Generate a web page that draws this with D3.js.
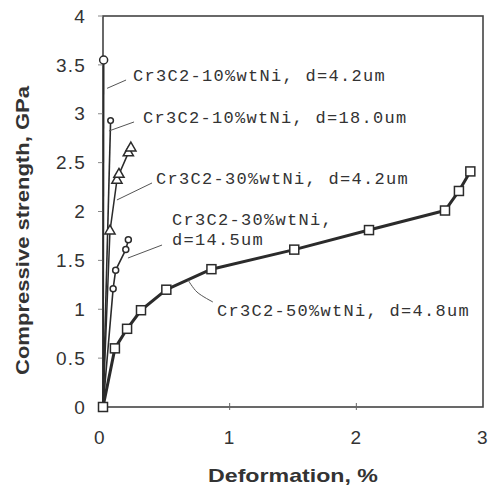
<!DOCTYPE html>
<html>
<head>
<meta charset="utf-8">
<script src="https://cdn.jsdelivr.net/npm/d3@7"></script>
<style>
  body { margin: 0; background: #fff; }
  .tick-label { font-family: "Liberation Sans", Arial, sans-serif; font-size: 19px; letter-spacing: 1.2px; fill: #333; }
  .axis-title { font-family: "Liberation Sans", Arial, sans-serif; font-size: 19px; font-weight: bold; fill: #333; }
  .note { font-family: "Liberation Mono", "Courier New", monospace; font-size: 17px; letter-spacing: 1.3px; fill: #333; }
</style>
</head>
<body>
<svg id="chart" width="489" height="488"></svg>
<script>
  // Data (deformation %, strength GPa)
  var s10_42_x = [0, 0.005];
  var s10_42_y = [0, 3.55];
  var s10_18_x = [0, 0.06];
  var s10_18_y = [0, 2.93];
  var s30_42_x = [0, 0.055, 0.11, 0.126, 0.2, 0.22];
  var s30_42_y = [0, 1.8, 2.32, 2.38, 2.6, 2.65];
  var s30_145_x = [0, 0.08, 0.1, 0.18, 0.2];
  var s30_145_y = [0, 1.21, 1.4, 1.61, 1.71];
  var s50_48_x = [0, 0.094, 0.19, 0.3, 0.5, 0.856, 1.51, 2.1, 2.7, 2.81, 2.9];
  var s50_48_y = [0, 0.6, 0.8, 0.99, 1.2, 1.41, 1.61, 1.81, 2.01, 2.21, 2.41];

  var x_ticks = [0, 1, 2, 3];
  var y_ticks = [0, 0.5, 1, 1.5, 2, 2.5, 3, 3.5, 4];
  var y_tick_labels = ["0", "0.5", "1", "1.5", "2", "2.5", "3", "3.5", "4"];

  var series_names = [
    "Cr3C2-10%wtNi, d=4.2um",
    "Cr3C2-10%wtNi, d=18.0um",
    "Cr3C2-30%wtNi, d=4.2um",
    ["Cr3C2-30%wtNi,", "d=14.5um"],
    "Cr3C2-50%wtNi, d=4.8um"
  ];

  var svg = d3.select("#chart");
  var x = d3.scaleLinear().domain([0, 3]).range([103, 483]);
  var y = d3.scaleLinear().domain([0, 4]).range([407, 16]);
  var ink = "#2b2b2b";

  // frame
  svg.append("rect")
    .attr("x", x(0)).attr("y", y(4))
    .attr("width", x(3) - x(0)).attr("height", y(0) - y(4))
    .attr("fill", "none").attr("stroke", "#444").attr("stroke-width", 1.6);

  // y ticks (outside, short)
  y_ticks.forEach(function (t, i) {
    svg.append("line")
      .attr("x1", x(0) - 5).attr("x2", x(0))
      .attr("y1", y(t)).attr("y2", y(t))
      .attr("stroke", "#888").attr("stroke-width", 1);
    svg.append("text").attr("class", "tick-label")
      .attr("x", 86).attr("y", y(t)).attr("dy", "0.35em")
      .attr("text-anchor", "end").text(y_tick_labels[i]);
  });

  // x ticks (crossing)
  x_ticks.forEach(function (t) {
    if (t > 0 && t < 3) {
      svg.append("line")
        .attr("x1", x(t)).attr("x2", x(t))
        .attr("y1", y(0) - 4).attr("y2", y(0) + 3)
        .attr("stroke", "#666").attr("stroke-width", 1);
    }
    svg.append("text").attr("class", "tick-label")
      .attr("x", x(t) - (t === 0 ? 3 : 0)).attr("y", 444)
      .attr("text-anchor", "middle").text(t);
  });

  svg.append("text").attr("class", "axis-title")
    .attr("x", 208).attr("y", 482)
    .attr("textLength", 170).attr("lengthAdjust", "spacingAndGlyphs")
    .text("Deformation, %");
  svg.append("text").attr("class", "axis-title")
    .attr("transform", "translate(29,375) rotate(-90)")
    .attr("textLength", 289).attr("lengthAdjust", "spacingAndGlyphs")
    .text("Compressive strength, GPa");

  function zip(xs, ys) {
    return xs.map(function (v, i) { return [v, ys[i]]; });
  }

  var line = d3.line().x(function (d) { return x(d[0]); }).y(function (d) { return y(d[1]); });

  function drawLine(pts, w) {
    svg.append("path").datum(pts).attr("d", line)
      .attr("fill", "none").attr("stroke", ink).attr("stroke-width", w)
      .attr("stroke-linejoin", "round");
  }

  var p1 = zip(s10_42_x, s10_42_y);
  var p2 = zip(s10_18_x, s10_18_y);
  var p3 = zip(s30_42_x, s30_42_y);
  var p4 = zip(s30_145_x, s30_145_y);
  var p5 = zip(s50_48_x, s50_48_y);

  drawLine(p1, 1.8);
  drawLine(p2, 1.6);
  drawLine(p3, 1.5);
  drawLine(p4, 1.6);
  drawLine(p5, 3);

  // markers
  svg.selectAll(null).data(p1.slice(1)).enter().append("circle")
    .attr("cx", function (d) { return x(d[0]); }).attr("cy", function (d) { return y(d[1]); })
    .attr("r", 4).attr("fill", "#fff").attr("stroke", ink).attr("stroke-width", 1.5);
  svg.selectAll(null).data(p2.slice(1)).enter().append("circle")
    .attr("cx", function (d) { return x(d[0]); }).attr("cy", function (d) { return y(d[1]); })
    .attr("r", 2.8).attr("fill", "#fff").attr("stroke", ink).attr("stroke-width", 1.5);
  svg.selectAll(null).data(p3.slice(1)).enter().append("path")
    .attr("d", d3.symbol(d3.symbolTriangle, 45))
    .attr("transform", function (d) { return "translate(" + x(d[0]) + "," + y(d[1]) + ")"; })
    .attr("fill", "#fff").attr("stroke", ink).attr("stroke-width", 1.5);
  svg.selectAll(null).data(p4.slice(1)).enter().append("circle")
    .attr("cx", function (d) { return x(d[0]); }).attr("cy", function (d) { return y(d[1]); })
    .attr("r", 3).attr("fill", "#fff").attr("stroke", ink).attr("stroke-width", 1.5);
  svg.selectAll(null).data(p5).enter().append("rect")
    .attr("x", function (d) { return x(d[0]) - 4.5; }).attr("y", function (d) { return y(d[1]) - 4.5; })
    .attr("width", 9).attr("height", 9)
    .attr("fill", "#fff").attr("stroke", ink).attr("stroke-width", 1.5);

  // annotations: text anchor and leader line, in data units
  var notes = [
    { tx: 0.237, ty: 3.335, lead: [[0.032, 3.26], [0.182, 3.345]] },
    { tx: 0.316, ty: 2.905, lead: [[0.047, 2.824], [0.245, 2.916]] },
    { tx: 0.418, ty: 2.281, lead: [[0.11, 2.118], [0.387, 2.292]] },
    { tx: 0.545, ty: 1.862, lead: [[0.197, 1.524], [0.466, 1.657]] },
    { tx: 0.9, ty: 0.93, lead: [[0.671, 1.30], [0.742, 1.176], [0.868, 1.074]] }
  ];

  var leadLine = d3.line().x(function (d) { return x(d[0]); }).y(function (d) { return y(d[1]); })
    .curve(d3.curveCatmullRom);

  notes.forEach(function (n, i) {
    svg.append("path").datum(n.lead).attr("d", leadLine)
      .attr("fill", "none").attr("stroke", "#555").attr("stroke-width", 1);
    var lines = Array.isArray(series_names[i]) ? series_names[i] : [series_names[i]];
    var t = svg.append("text").attr("class", "note");
    lines.forEach(function (s, k) {
      t.append("tspan").attr("x", x(n.tx)).attr("y", y(n.ty) + k * 20).text(s);
    });
  });
</script>
</body>
</html>
